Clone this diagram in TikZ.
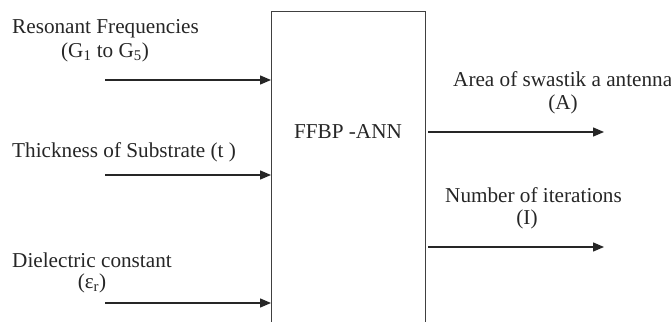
\documentclass[tikz,border=0pt]{standalone}
\usepackage{fontspec}
\setmainfont{Liberation Serif}
\usetikzlibrary{arrows.meta}
\tikzset{
  lbl/.style={inner sep=0pt, font=\fontsize{21.2}{24}\selectfont, text=black!85, yshift=-2pt},
  arr/.style={line width=1.3pt, draw=black!85, -{Triangle[length=11pt,width=9pt]}},
  blk/.style={draw=black!75, line width=1.4pt, inner sep=0pt}
}
\begin{document}
\begin{tikzpicture}[x=1pt,y=-1pt]
\useasboundingbox (0,0) rectangle (671,321);

% network block, open at the lower edge of the page
\node[blk, minimum width=154pt, minimum height=340pt, anchor=north west] (ann) at (271,10.7) {};
\node[lbl] (annlbl) at (348,130) {FFBP -ANN};

% inputs
\node[lbl, anchor=west] (rf) at (12,27) {Resonant Frequencies};
\node[lbl] (rfsym) at (105,50) {(G\textsubscript{1} to G\textsubscript{5})};
\node[lbl, anchor=west] (th) at (12,150) {Thickness of Substrate (t )};
\node[lbl, anchor=west] (dc) at (12,258) {Dielectric constant};
\node[lbl] (dcsym) at (92,281) {(ε\textsubscript{r})};

\coordinate (i1) at (105,80);
\coordinate (i2) at (105,175);
\coordinate (i3) at (105,303);
\draw[arr] (i1) -- (i1 -| ann.west);
\draw[arr] (i2) -- (i2 -| ann.west);
\draw[arr] (i3) -- (i3 -| ann.west);

% outputs
\node[lbl, anchor=west] (area) at (453,77) {Area of swastik a antenna};
\node[lbl] (areasym) at (563,102) {(A)};
\node[lbl, anchor=west] (iter) at (445,193) {Number of iterations};
\node[lbl] (itersym) at (527,217) {(I)};

\coordinate (o1) at (604,132);
\coordinate (o2) at (604,247);
\draw[arr] ([xshift=2pt]ann.east |- o1) -- (o1);
\draw[arr] ([xshift=2pt]ann.east |- o2) -- (o2);
\end{tikzpicture}
\end{document}
